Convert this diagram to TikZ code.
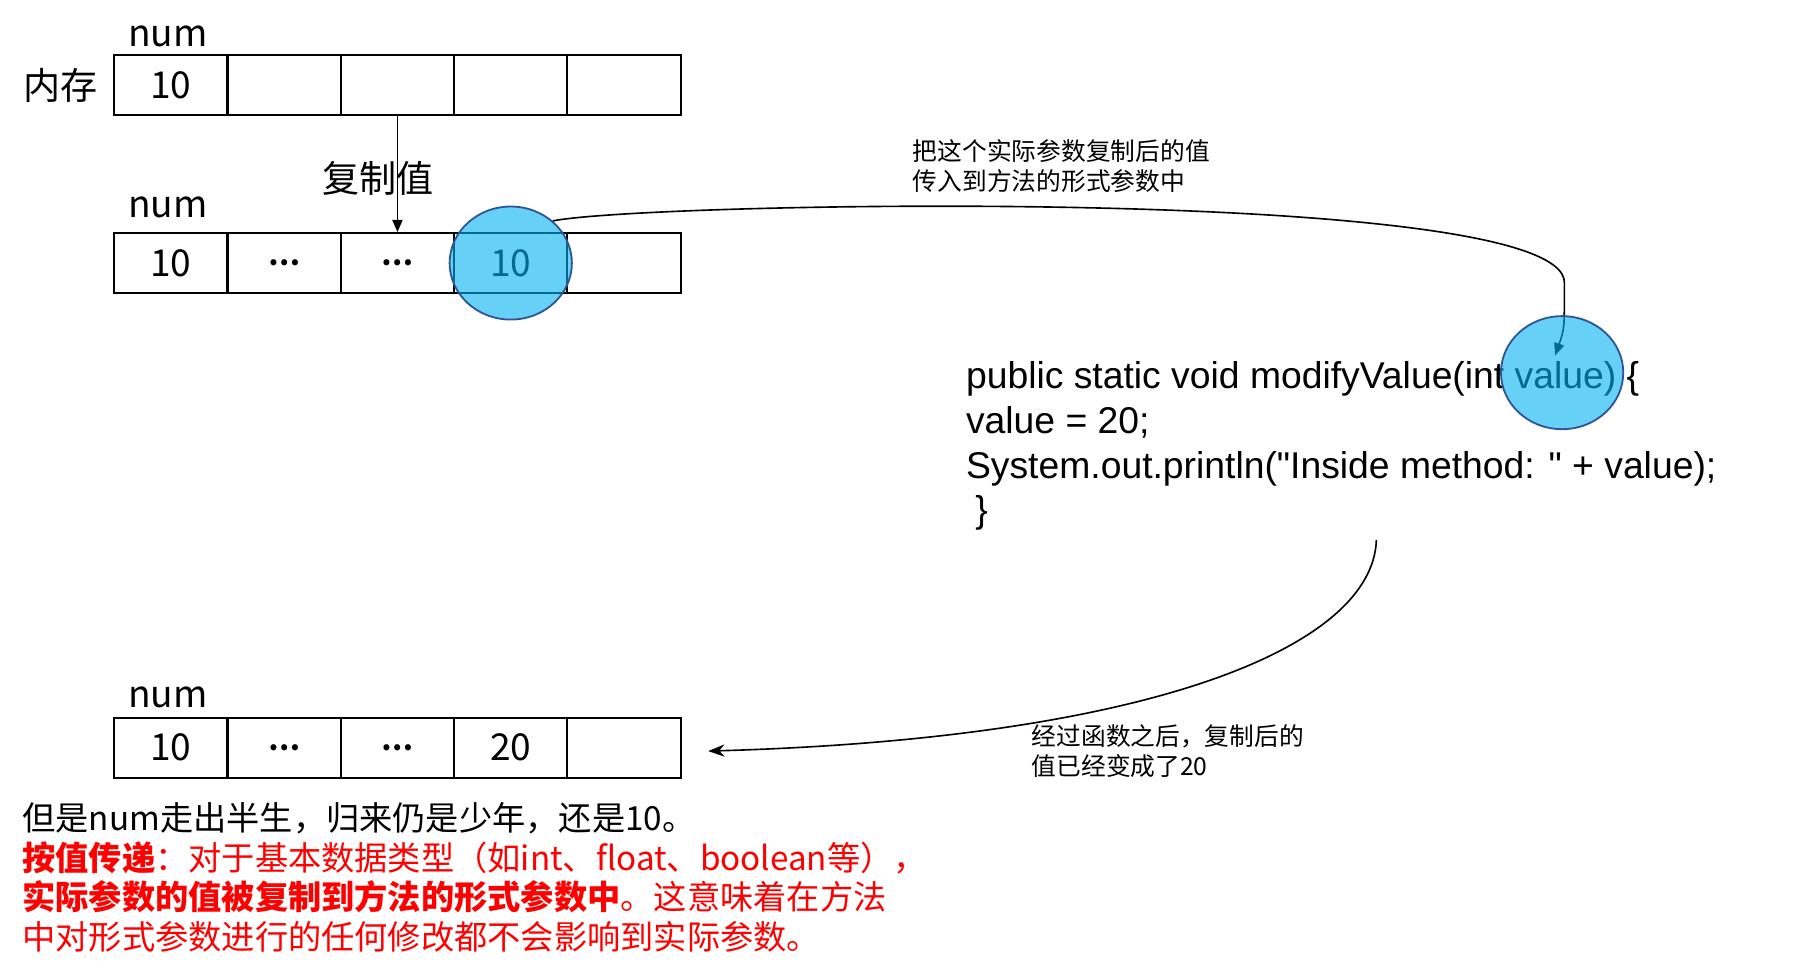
\documentclass[tikz,border=0pt]{standalone}
\usepackage{fontspec}
\setmainfont{Noto Sans CJK SC}
\newfontfamily\codefont{Liberation Sans}
\usetikzlibrary{positioning,shapes.geometric,arrows.meta}

\definecolor{valfill}{HTML}{00B0F0}
\definecolor{valedge}{HTML}{2F5597}
\newcommand{\celldots}{{\fontsize{14}{16}\selectfont\textbf{…}}}

\begin{document}
\begin{tikzpicture}[x=0.02cm,y=-0.02cm,
    cell/.style={draw,line width=1pt,minimum width=1.964cm,minimum height=1.04cm,
        inner sep=0pt,font=\fontsize{18.3}{22}\selectfont},
    biglabel/.style={inner sep=0pt,font=\fontsize{18.3}{22}\selectfont},
    valcircle/.style={ellipse,draw=valedge,line width=0.9pt,fill=valfill,
        fill opacity=0.6,draw opacity=1,inner sep=0pt,
        minimum width=2.12cm,minimum height=1.96cm},
    note/.style={inner sep=0pt,align=left,anchor=north west,
        font=\fontsize{12.2}{14.7}\selectfont},
    flow/.style={line width=0.8pt}]

    % keep the page as large as the reference
    \useasboundingbox (0,0) rectangle (1568,846);

    % the three rows of memory cells
    \def\cellw{98.2}
    \foreach \v [count=\i] in {10,{},{},{},{}}
        \node[cell] (top\i) at ({99+\cellw*(\i-0.5)},74) {\v};
    \foreach \v [count=\i] in {10,\celldots,\celldots,10,{}}
        \node[cell] (mid\i) at ({99+\cellw*(\i-0.5)},228) {\v};
    \foreach \v [count=\i] in {10,\celldots,\celldots,20,{}}
        \node[cell] (bot\i) at ({99+\cellw*(\i-0.5)},648) {\v};

    % labels round the rows
    \node[biglabel,left=0.26cm of top1] (mem) {内存};
    \node[biglabel,anchor=base west] (numtop) at ([xshift=0.25cm,yshift=0.13cm]top1.north west) {num};
    \node[biglabel,anchor=base west] (nummid) at ([xshift=0.25cm,yshift=0.25cm]mid1.north west) {num};
    \node[biglabel,anchor=base west] (numbot) at ([xshift=0.25cm,yshift=0.16cm]bot1.north west) {num};

    % copy the value down
    \draw[flow,-{Triangle[length=6pt,width=5pt]}] (top3.south) -- (mid3.north);
    \node[biglabel] (copylbl) at (328,155) {复制值};

    % the method
    \node[inner sep=0pt,align=left,anchor=north west,
        font=\codefont\fontsize{18.4}{22.1}\selectfont] (code) at (837,313)
        {public static void modifyValue(int value) \{\\
         value = 20;\\
         System.out.println("Inside method: " + value);\\
         \hspace{0.25em}\}};

    % notes next to the curves
    \node[note] (note1) at (791,121) {把这个实际参数复制后的值\\传入到方法的形式参数中};
    \node[note] (note2) at (894,628) {经过函数之后，复制后的\\值已经变成了20};

    % text under the last row
    \node[inner sep=0pt,align=left,anchor=north west,
        font=\fontsize{16.4}{19.6}\selectfont] (summary) at (19,695)
        {但是num走出半生，归来仍是少年，还是10。\\
         \textcolor{red}{\textbf{按值传递}：对于基本数据类型（如int、float、boolean等），}\\
         \textcolor{red}{\textbf{实际参数的值被复制到方法的形式参数中}。这意味着在方法}\\
         \textcolor{red}{中对形式参数进行的任何修改都不会影响到实际参数。}};

    % pass the value into the method
    \node[valcircle] (c1) at (mid4) {};
    \coordinate (tip1) at (1348,308);
    \draw[flow,-{Triangle[length=6pt,width=5pt]}] (c1.45)
        .. controls (560,175) and (1356,160) .. (1356,245)
        .. controls (1356,285) .. (tip1);
    \node[valcircle] (c2) at (1354,323) {};

    % and back to the last row
    \coordinate (from2) at (1193,468);
    \draw[flow,-{Stealth[length=8pt,width=6pt]}] (from2)
        .. controls (1190,560) and (1000,640) .. ([xshift=0.46cm,yshift=-0.06cm]bot5.east);
\end{tikzpicture}
\end{document}
